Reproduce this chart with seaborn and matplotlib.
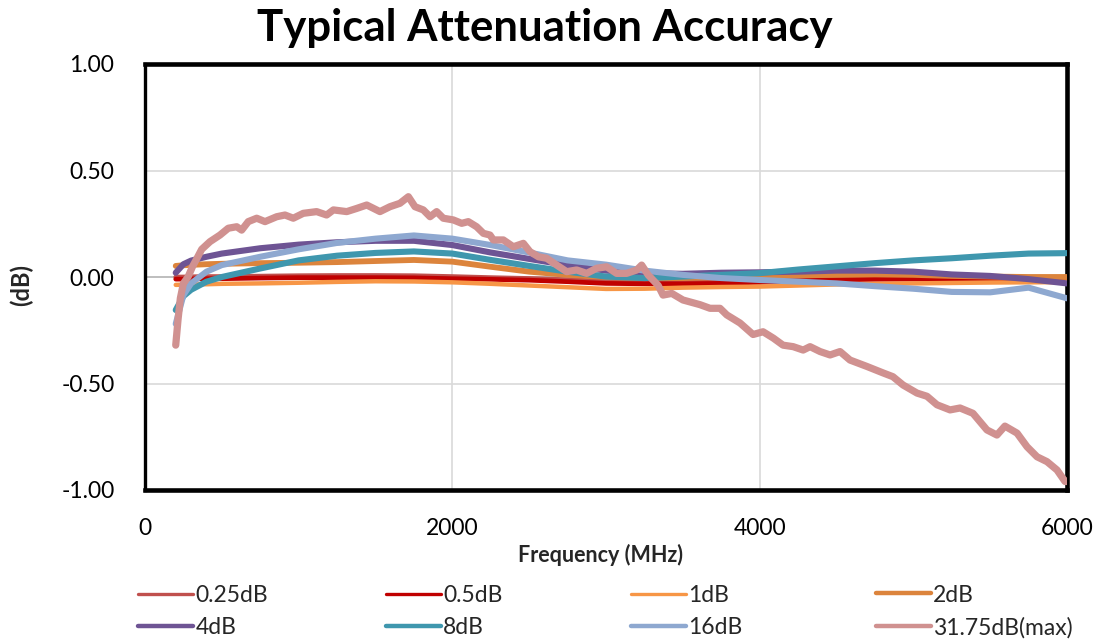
import matplotlib
matplotlib.use("Agg")
import matplotlib.pyplot as plt
import seaborn as sns
import pandas as pd

sns.set_theme(style="white")
plt.rcParams['font.family'] = ['Lato', 'DejaVu Sans']

# ---------------- data ----------------
FREQ = [200, 250, 300, 400, 500, 750, 1000, 1250, 1500, 1750, 2000, 2250, 2500,
        2750, 3000, 3250, 3500, 3750, 4000, 4250, 4500, 4750, 5000, 5250, 5500,
        5750, 6000]

att_025 = [0.000, 0.000, 0.001, 0.002, 0.002, 0.004, 0.006, 0.007, 0.007, 0.006, 0.002, -0.003, -0.007,
           -0.013, -0.020, -0.023, -0.024, -0.022, -0.017, -0.010, -0.004, -0.001, 0.000, -0.001, -0.002,
           -0.004, -0.005]
att_05 = [-0.010, -0.010, -0.009, -0.008, -0.008, -0.005, -0.003, -0.003, -0.003, -0.004, -0.008, -0.011, -0.015,
          -0.022, -0.030, -0.032, -0.032, -0.030, -0.025, -0.019, -0.013, -0.011, -0.010, -0.010, -0.011,
          -0.013, -0.015]
att_1 = [-0.037, -0.036, -0.035, -0.034, -0.032, -0.030, -0.027, -0.023, -0.020, -0.021, -0.025, -0.032, -0.040,
         -0.048, -0.056, -0.055, -0.050, -0.047, -0.045, -0.040, -0.035, -0.032, -0.030, -0.028, -0.026,
         -0.025, -0.024]
att_2 = [0.052, 0.055, 0.057, 0.060, 0.062, 0.065, 0.067, 0.070, 0.075, 0.080, 0.072, 0.048, 0.025,
         0.010, 0.000, -0.005, -0.005, 0.000, 0.005, 0.008, 0.010, 0.012, 0.010, 0.005, 0.002,
         0.000, 0.000]
att_4 = [0.020, 0.060, 0.077, 0.095, 0.110, 0.135, 0.152, 0.163, 0.170, 0.170, 0.150, 0.115, 0.085,
         0.055, 0.030, 0.018, 0.015, 0.020, 0.022, 0.025, 0.030, 0.030, 0.025, 0.012, 0.005,
         -0.010, -0.030]
att_8 = [-0.155, -0.090, -0.060, -0.022, 0.000, 0.040, 0.078, 0.100, 0.113, 0.120, 0.110, 0.080, 0.052,
         0.025, 0.002, -0.005, 0.002, 0.010, 0.018, 0.035, 0.050, 0.065, 0.078, 0.088, 0.100,
         0.110, 0.112]
att_16 = [-0.220, -0.085, -0.030, 0.025, 0.056, 0.095, 0.130, 0.160, 0.180, 0.195, 0.180, 0.150, 0.115,
          0.078, 0.058, 0.030, 0.010, -0.005, -0.014, -0.022, -0.030, -0.043, -0.055, -0.070, -0.072,
          -0.050, -0.100]

FREQ_MAX = [200, 215, 230, 250, 280, 310, 340, 369, 423, 488, 542, 597, 629, 672, 727,
            781, 857, 911, 965, 1030, 1117, 1182, 1226, 1313, 1378, 1443, 1529, 1594,
            1659, 1714, 1757, 1811, 1855, 1898, 1941, 2006, 2061, 2104, 2158, 2202, 2245,
            2267, 2332, 2397, 2462, 2505, 2560, 2614, 2679, 2744, 2809, 2874, 2939, 3004,
            3069, 3134, 3200, 3232, 3275, 3340, 3371, 3428, 3501, 3612, 3677, 3742, 3786,
            3872, 3957, 4022, 4089, 4152, 4218, 4283, 4328, 4393, 4458, 4523, 4588, 4698,
            4802, 4867, 4933, 5024, 5089, 5154, 5239, 5304, 5388, 5479, 5544, 5596, 5675,
            5740, 5805, 5870, 5935, 5987, 6000]
att_max = [-0.320, -0.200, -0.100, -0.030, 0.000, 0.050, 0.090, 0.130, 0.166, 0.197, 0.229, 0.236, 0.220, 0.260, 0.276,
           0.260, 0.283, 0.291, 0.276, 0.299, 0.307, 0.291, 0.315, 0.307, 0.322, 0.338, 0.307, 0.330,
           0.346, 0.377, 0.330, 0.315, 0.283, 0.307, 0.276, 0.268, 0.252, 0.260, 0.236, 0.205, 0.197,
           0.174, 0.174, 0.142, 0.158, 0.119, 0.095, 0.088, 0.056, 0.025, 0.033, 0.017, 0.041, 0.048,
           0.017, 0.017, 0.033, 0.056, 0.009, -0.040, -0.085, -0.077, -0.108, -0.130, -0.147, -0.147, -0.178,
           -0.216, -0.270, -0.257, -0.287, -0.320, -0.327, -0.343, -0.327, -0.350, -0.366, -0.350, -0.390, -0.420,
           -0.450, -0.468, -0.507, -0.545, -0.560, -0.600, -0.624, -0.615, -0.640, -0.718, -0.742, -0.700, -0.733,
           -0.797, -0.844, -0.867, -0.906, -0.960, -0.960]

SERIES = ["0.25dB", "0.5dB", "1dB", "2dB", "4dB", "8dB", "16dB", "31.75dB(max)"]
VALUES = [att_025, att_05, att_1, att_2, att_4, att_8, att_16, att_max]
XS = [FREQ] * 7 + [FREQ_MAX]
COLORS = ["#C0504D", "#C00000", "#F79646", "#DC843C", "#6E5494", "#3F97AE", "#8EA8D0", "#D09190"]
LWS = [3.4, 3.4, 3.2, 4.2, 4.4, 4.4, 4.4, 5.2]
LEG_LWS = [2.4, 2.4, 2.4, 3.2, 3.2, 3.2, 3.2, 3.2]

XTICKS = [0, 2000, 4000, 6000]
XTICK_LABELS = ["0", "2000", "4000", "6000"]
YTICKS = [-1.0, -0.5, 0.0, 0.5, 1.0]
YTICK_LABELS = ["-1.00", "-0.50", "0.00", "0.50", "1.00"]

# ---------------- figure ----------------
W, H = 1099, 642
fig = plt.figure(figsize=(W / 100, H / 100), dpi=100)
ax = fig.add_axes([145 / W, 1 - 490 / H, (1067 - 145) / W, (490 - 64) / H])

frames = []
for name, xs, vals in zip(SERIES, XS, VALUES):
    frames.append(pd.DataFrame({"Frequency": xs, "Value": vals, "Series": name}))
df = pd.concat(frames, ignore_index=True)

lines = []
for i, name in enumerate(SERIES):
    sub = df[df["Series"] == name]
    sns.lineplot(data=sub, x="Frequency", y="Value", ax=ax, color=COLORS[i],
                 linewidth=LWS[i], label=name, zorder=3 + i, estimator=None,
                 solid_capstyle="round", solid_joinstyle="round")
    lines.append(ax.lines[-1])
if ax.get_legend() is not None:
    ax.get_legend().remove()

ax.set_xlim(0, 6000)
ax.set_ylim(-1, 1)
ax.set_xticks(XTICKS)
ax.set_xticklabels(XTICK_LABELS)
ax.set_yticks(YTICKS)
ax.set_yticklabels(YTICK_LABELS)
ax.grid(True, color="#D9D9D9", linewidth=1.2, zorder=0)
ax.axhline(0, color="#BFBFBF", linewidth=1.4, zorder=1)
ax.tick_params(axis="x", length=0, pad=20, labelsize=16.5, colors="black")
ax.tick_params(axis="y", length=0, pad=22, labelsize=16.5, colors="black")
for s in ["top", "right", "bottom"]:
    ax.spines[s].set_linewidth(3.3)
    ax.spines[s].set_color("black")
ax.spines["left"].set_linewidth(2.4)
ax.spines["left"].set_color("black")

ax.set_xlabel("Frequency (MHz)", fontsize=15.5, fontweight="bold")
ax.set_ylabel("(dB)", fontsize=17, fontweight="bold")
ax.xaxis.set_label_coords((600 - 145) / (1067 - 145), -(544 - 490) / (490 - 64))
ax.yaxis.set_label_coords(-(145 - 33) / (1067 - 145), (490 - 285) / (490 - 64))

fig.text(545 / W, 1 - 28 / H, "Typical Attenuation Accuracy", ha="center", va="center",
         fontsize=31.5, fontweight="bold", color="black")

# legend: 4 columns x 2 rows
col_x = [138, 386, 631, 876]
for c in range(4):
    hs = [lines[c], lines[c + 4]]
    ls = [SERIES[c], SERIES[c + 4]]
    leg = fig.legend(hs, ls, loc="center left", bbox_to_anchor=(col_x[c] / W, 1 - 611.5 / H),
                     frameon=False, fontsize=16.5, handlelength=2.4, handletextpad=0.1,
                     borderpad=0, borderaxespad=0, labelspacing=0.5)
    for j, ln in enumerate(leg.get_lines()):
        ln.set_linewidth(LEG_LWS[c + 4 * j])

fig.savefig("out.png", dpi=100)
